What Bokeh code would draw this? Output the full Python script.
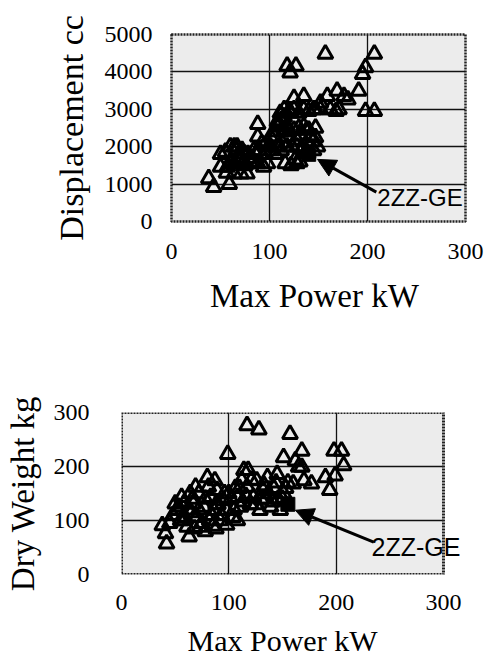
from bokeh.plotting import figure
from bokeh.models import Label, Arrow, NormalHead, FixedTicker, Title
from bokeh.embed import file_html
from bokeh.resources import INLINE

# ---- data: top chart (Max Power kW vs Displacement cc) ----
disp_power = [38, 43, 59, 50, 55, 60, 67, 50, 57, 64, 64, 71, 77, 74, 81, 84, 88, 88, 94, 98,
              88, 101, 101, 108, 105, 108, 111, 115, 118, 118, 118, 116, 125, 125, 128, 128, 128,
              135, 135, 135, 135, 139, 144, 147, 149, 147, 152, 159, 157, 118, 127, 121, 162,
              169, 171, 176, 180, 191, 195, 198, 207, 198, 207, 168, 152, 92, 72, 64, 105, 108,
              115, 123, 62, 70, 78, 56, 66, 82, 96, 112, 132, 140, 145, 122, 110, 99, 86, 74,
              112, 115, 120, 130, 140, 145, 113, 120, 125, 130, 138, 142, 147, 133, 137, 126,
              122, 131, 60, 68, 75, 83, 90, 95, 102, 106]
disp_cc = [1150, 920, 1000, 1800, 1860, 2000, 2000, 1460, 1460, 1550, 1280, 1280, 1280, 1820,
           1550, 1900, 2600, 2270, 1460, 1550, 1550, 2000, 2270, 2000, 2270, 2540, 2900, 3000,
           2540, 2270, 2000, 1550, 3000, 3300, 2180, 1550, 2000, 3350, 3000, 2540, 2000, 1820,
           2140, 2500, 2000, 3000, 3170, 3350, 4480, 4160, 4160, 3980, 3000, 3490, 3000, 3350,
           3260, 3490, 3940, 4120, 4480, 2950, 2950, 2950, 3000, 2090, 1910, 2000, 2400, 2670,
           2450, 2000, 1600, 1700, 1800, 1300, 1900, 1700, 1800, 1900, 2300, 2450, 1900, 2900,
           2600, 2000, 1800, 1600,
           2700, 2800, 2950, 2900, 2950, 3000, 2100, 2400, 2450, 2500, 2450, 2300, 2250, 1950,
           1850, 1650, 1500, 1600, 1550, 1650, 1500, 1600, 1900, 2050, 1900, 1800]

# ---- data: bottom chart (Max Power kW vs Dry Weight kg) ----
wt_power = [38, 41, 42, 50, 52, 56, 58, 59, 61, 63, 64, 67, 69, 70, 73, 77, 80, 81, 83, 86,
            87, 89, 92, 95, 98, 99, 104, 108, 111, 114, 117, 117, 118, 123, 126, 128, 129, 132,
            136, 139, 145, 148, 151, 151, 157, 160, 162, 165, 168, 168, 170, 177, 190, 194, 198,
            199, 205, 207, 55, 62, 66, 72, 75, 84, 90, 100, 106, 112, 120, 134, 142, 146, 155,
            45, 48, 53, 58, 65, 68, 72, 78, 82, 85, 88, 93, 96, 102, 105, 110, 113, 116, 121,
            125, 130, 133, 137, 141, 144, 150, 153, 78, 88, 98, 108]
wt_kg = [91, 76, 57, 131, 119, 143, 131, 106, 88, 70, 150, 131, 162, 106, 88, 125, 180, 162,
         143, 119, 174, 156, 100, 137, 119, 223, 106, 143, 125, 193, 162, 276, 193, 143, 174, 268,
         119, 156, 180, 125, 186, 119, 217, 150, 260, 168, 211, 199, 229, 199, 174, 168, 180, 156,
         229, 183, 229, 202, 100, 120, 140, 150, 95, 110, 130, 150, 160, 175, 130, 140, 160, 140, 170,
         95, 110, 125, 100, 115, 85, 120, 140, 100, 90, 130, 110, 150, 140, 120, 160, 135, 145, 175,
         130, 140, 165, 150, 135, 170, 140, 160, 80, 85, 92, 100]

x_ticks = [0, 100, 200, 300]
disp_ticks = [0, 1000, 2000, 3000, 4000, 5000]
wt_ticks = [0, 100, 200, 300]
wt_grid = [100, 200]

# highlighted engine 2ZZ-GE
hl_label = "2ZZ-GE"
hl_disp = (140, 1796)
hl_wt = (155, 130)

SERIF = "Liberation Serif"
BG = "#ececec"
GRID = "#111111"


def style_axes(p, yticks, ytick_standoff, ylab_standoff, xtick_standoff, xlab_standoff,
               xlab_size, ylab_size):
    p.xaxis.ticker = FixedTicker(ticks=x_ticks)
    p.yaxis.ticker = FixedTicker(ticks=yticks)
    p.xgrid.ticker = FixedTicker(ticks=x_ticks)
    p.ygrid.ticker = FixedTicker(ticks=yticks)
    for g in (p.xgrid, p.ygrid):
        g.grid_line_color = GRID
        g.grid_line_width = 1.3
    for ax in (p.xaxis, p.yaxis):
        ax.axis_line_color = None
        ax.major_tick_line_color = None
        ax.minor_tick_line_color = None
        ax.major_tick_out = 0
        ax.major_tick_in = 0
        ax.major_label_text_font = SERIF
        ax.major_label_text_font_size = "24px"
        ax.major_label_text_color = "black"
        ax.axis_label_text_font = SERIF
        ax.axis_label_text_font_style = "normal"
        ax.axis_label_text_color = "black"
    p.xaxis.axis_label_text_font_size = xlab_size
    p.yaxis.axis_label_text_font_size = ylab_size
    p.yaxis.major_label_standoff = ytick_standoff
    p.yaxis.axis_label_standoff = ylab_standoff
    p.xaxis.major_label_standoff = xtick_standoff
    p.xaxis.axis_label_standoff = xlab_standoff


# ---- top figure ----
p1 = figure(width=484, height=330, x_range=(0, 300), y_range=(0, 5000),
            output_backend="svg", toolbar_location=None,
            min_border_left=171, min_border_right=19, min_border_top=34, min_border_bottom=109)
p1.background_fill_color = BG
p1.border_fill_color = "white"
p1.outline_line_color = "#222222"
p1.outline_line_width = 2.5
p1.outline_line_dash = "2 1"
style_axes(p1, disp_ticks, 19, 12, 22, 16, "33px", "34px")
p1.xaxis.axis_label = "Max Power  kW"
p1.yaxis.axis_label = "Displacement cc"
p1.scatter(disp_power, disp_cc, marker="triangle", size=15, line_width=3,
           line_color="black", fill_color=None)
p1.scatter([hl_disp[0]], [hl_disp[1]], marker="square", size=14, line_color="black",
           fill_color="black")
p1.add_layout(Arrow(end=NormalHead(size=18, fill_color="black", line_color="black"),
                    x_start=209, y_start=784, x_end=149, y_end=1660,
                    line_width=3, line_color="black", level="overlay"))
p1.add_layout(Label(x=210, y=270, text=hl_label, text_font="Liberation Sans",
                    text_font_size="24px", text_color="black", level="overlay"))

# ---- bottom figure (frame widened so that the label fits; visible box drawn to x=300) ----
X_END2 = 300 * 349 / 322
p2 = figure(width=484, height=335, x_range=(0, X_END2), y_range=(0, 300),
            output_backend="svg", toolbar_location=None,
            min_border_left=121, min_border_right=14, min_border_top=82, min_border_bottom=91)
p2.background_fill_color = "white"
p2.border_fill_color = "white"
p2.outline_line_color = None
style_axes(p2, wt_ticks, 32, 10, 20, 14, "30px", "33px")
p2.ygrid.visible = False
p2.xgrid.ticker = FixedTicker(ticks=wt_grid)
p2.yaxis.axis_label = "Dry Weight kg"
p2.add_layout(Title(text="Max Power kW", align="left", offset=66, standoff=18,
                    text_font=SERIF, text_font_size="30px", text_font_style="normal",
                    text_color="black"), "below")
p2.quad(left=[0], right=[300], bottom=[0], top=[300], fill_color=BG, line_color=None,
        level="image")
p2.segment(x0=[0] * len(wt_grid), x1=[300] * len(wt_grid), y0=wt_grid, y1=wt_grid,
           line_color=GRID, line_width=1.3, level="underlay")
p2.scatter(wt_power, wt_kg, marker="triangle", size=15, line_width=3,
           line_color="black", fill_color=None)
p2.scatter([hl_wt[0]], [hl_wt[1]], marker="square", size=14, line_color="black",
           fill_color="black")
p2.quad(left=[0], right=[300], bottom=[0], top=[300], fill_color=None,
        line_color="#222222", line_width=3, line_dash="2 1")
p2.add_layout(Arrow(end=NormalHead(size=18, fill_color="black", line_color="black"),
                    x_start=235, y_start=60, x_end=162, y_end=119,
                    line_width=3, line_color="black", level="overlay"))
p2.add_layout(Label(x=233, y=25, text=hl_label, text_font="Liberation Sans",
                    text_font_size="25px", text_color="black", level="overlay"))

open("out.html", "w").write(file_html([p1, p2], INLINE))
